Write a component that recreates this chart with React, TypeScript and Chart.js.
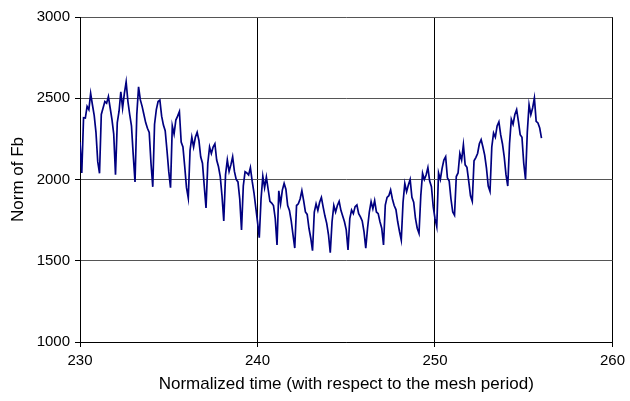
import React, { useEffect, useRef } from 'react';
import { Chart, registerables } from 'chart.js';

Chart.register(...registerables);

// Sampling grid of the normalized time axis
const TIME_START = 230;
const TIME_STEP = 0.1;

// Norm of Fb, sampled every 0.1 mesh period (one row per mesh period)
const NORM_230_235 = [
  2230, 2040, 2380, 2378, 2450, 2430, 2530, 2460, 2395, 2290,
  2110, 2038, 2400, 2440, 2480, 2470, 2510, 2440, 2370, 2280,
  2030, 2350, 2420, 2540, 2440, 2530, 2600, 2480, 2400, 2330,
  2150, 1985, 2400, 2570, 2490, 2450, 2400, 2350, 2315, 2290,
  2100, 1955, 2340, 2430, 2480, 2489, 2390, 2335, 2300, 2180,
];
const NORM_235_240 = [
  2050, 1950, 2330, 2280, 2366, 2390, 2418, 2230, 2200, 2080,
  1950, 1886, 2180, 2260, 2200, 2260, 2290, 2240, 2140, 2100,
  1960, 1825, 2100, 2200, 2160, 2200, 2220, 2120, 2080, 2020,
  1900, 1745, 2030, 2120, 2050, 2090, 2140, 2050, 2000, 1985,
  1880, 1690, 1960, 2048, 2040, 2028, 2073, 1990, 1920, 1830,
];
const NORM_240_245 = [
  1741, 1642, 1880, 2020, 1950, 2015, 1940, 1865, 1855, 1840,
  1760, 1597, 1930, 1850, 1935, 1976, 1940, 1840, 1810, 1745,
  1660, 1578, 1840, 1850, 1880, 1931, 1870, 1800, 1785, 1700,
  1640, 1562, 1800, 1850, 1810, 1860, 1890, 1830, 1775, 1730,
  1660, 1550, 1740, 1840, 1800, 1840, 1865, 1810, 1775, 1740,
];
const NORM_245_250 = [
  1690, 1566, 1760, 1812, 1790, 1833, 1843, 1790, 1770, 1745,
  1680, 1578, 1700, 1800, 1864, 1820, 1870, 1800, 1790, 1740,
  1700, 1597, 1843, 1890, 1900, 1935, 1880, 1840, 1815, 1740,
  1680, 1628, 1860, 1975, 1925, 1966, 2000, 1890, 1860, 1760,
  1700, 1669, 1900, 2038, 2000, 2028, 2073, 1990, 1956, 1833,
];
const NORM_250_255 = [
  1760, 1710, 2040, 2000, 2069, 2120, 2140, 2010, 1990, 1880,
  1800, 1780, 2018, 2040, 2160, 2120, 2213, 2090, 2075, 1990,
  1900, 1866, 2115, 2135, 2160, 2220, 2245, 2200, 2150, 2070,
  1960, 1927, 2200, 2286, 2260, 2330, 2355, 2276, 2220, 2140,
  2030, 1960, 2220, 2370, 2340, 2400, 2430, 2358, 2276, 2260,
];
const NORM_255_256 = [
  2100, 2000, 2290, 2460, 2399, 2440, 2501, 2358, 2348, 2317,
  2255,
];

const X_MIN = 230;
const X_MAX = 260;
const X_STEP_TICK = 10;
const Y_MIN = 1000;
const Y_MAX = 3000;
const Y_STEP_TICK = 500;

const X_TITLE = 'Normalized time (with respect to the mesh period)';
const Y_TITLE = 'Norm of Fb';

const FONT = '"Liberation Sans", Arial, sans-serif';

export default function App() {
  const canvasRef = useRef<HTMLCanvasElement | null>(null);

  useEffect(() => {
    const canvas = canvasRef.current;
    if (!canvas) return;
    const values = [
      ...NORM_230_235,
      ...NORM_235_240,
      ...NORM_240_245,
      ...NORM_245_250,
      ...NORM_250_255,
      ...NORM_255_256,
    ];
    const points = values.map((v, i) => ({
      x: Math.round((TIME_START + i * TIME_STEP) * 100) / 100,
      y: v,
    }));

    const chart = new Chart(canvas, {
      type: 'line',
      data: {
        datasets: [
          {
            data: points,
            borderColor: '#000080',
            borderWidth: 1.7,
            pointRadius: 0,
            tension: 0,
            fill: false,
          },
        ],
      },
      options: {
        animation: false,
        responsive: false,
        maintainAspectRatio: false,
        layout: { padding: { left: 0, right: 14, top: 17, bottom: 0 } },
        plugins: {
          legend: { display: false },
          tooltip: { enabled: false },
        },
        scales: {
          x: {
            type: 'linear',
            min: X_MIN,
            max: X_MAX,
            ticks: {
              stepSize: X_STEP_TICK,
              color: '#000',
              font: { family: FONT, size: 15 },
              padding: 5,
              maxRotation: 0,
              callback: (v: any) => String(v),
            },
            grid: {
              color: '#000',
              lineWidth: 1,
              tickLength: 5,
              tickColor: '#000',
            },
            border: { color: '#000', width: 1 },
            title: {
              display: true,
              text: X_TITLE,
              color: '#000',
              font: { family: FONT, size: 17 },
              padding: { top: 4, bottom: 6 },
            },
            afterFit: (s: any) => {
              s.height = 59;
            },
          },
          y: {
            type: 'linear',
            min: Y_MIN,
            max: Y_MAX,
            ticks: {
              stepSize: Y_STEP_TICK,
              color: '#000',
              font: { family: FONT, size: 15 },
              padding: 5,
              callback: (v: any) => String(v),
            },
            grid: {
              color: '#555',
              lineWidth: 1,
              tickLength: 5,
              tickColor: '#000',
            },
            border: { color: '#000', width: 1 },
            title: {
              display: true,
              text: Y_TITLE,
              color: '#000',
              font: { family: FONT, size: 17 },
              padding: { top: 8, bottom: 0 },
            },
            afterFit: (s: any) => {
              s.width = 80;
            },
          },
        },
      } as any,
    });
    return () => chart.destroy();
  }, []);

  return (
    <div style={{ position: 'absolute', left: 0, top: 0, width: 630, height: 401, background: '#fff' }}>
      <canvas ref={canvasRef} width={630} height={401} style={{ display: 'block', width: 630, height: 401 }} />
    </div>
  );
}
